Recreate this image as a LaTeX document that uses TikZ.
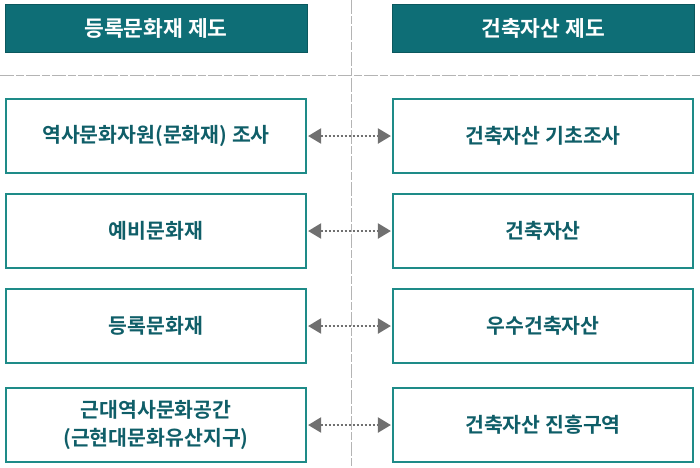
\documentclass[tikz,border=0pt]{standalone}
\usepackage{fontspec}
\setmainfont{Noto Sans CJK KR}[BoldFont={* Bold}]
\usetikzlibrary{arrows.meta}
\definecolor{hdr}{HTML}{0E6E76}
\definecolor{bord}{HTML}{1E8B88}
\definecolor{txt}{HTML}{0F5E68}
\definecolor{arr}{HTML}{707070}
\definecolor{sep}{HTML}{B4B4B4}
\begin{document}
\begin{tikzpicture}[x=1pt,y=-1pt,
  hdrbox/.style={fill=hdr,draw=hdr!80!black,line width=0.8pt,minimum width=302pt,minimum height=48pt,
    text=white,font=\fontsize{21.5}{25}\selectfont\bfseries,inner sep=0pt},
  itembox/.style={draw=bord,line width=2.2pt,fill=white,minimum width=300pt,minimum height=74pt,
    text=txt,font=\fontsize{20.5}{28}\selectfont\bfseries,align=center,inner sep=0pt},
  link/.style={draw=arr,line width=2.2pt,dash pattern=on 2pt off 2pt,
    {Triangle[length=13pt,width=15pt,fill=arr]}-{Triangle[length=13pt,width=15pt,fill=arr]},shorten <=1pt,shorten >=1pt},
  sepline/.style={draw=sep,line width=1pt,dash pattern=on 14pt off 2pt on 8pt off 2pt}]
\useasboundingbox (0,0) rectangle (700,467);
\coordinate (vt) at (351,0);
\coordinate (vb) at (351,467);
\coordinate (hl) at (0,75);
\coordinate (hr) at (700,75);
\draw[sepline] (vt) -- (vb);
\draw[sepline] (hl) -- (hr);
\node[hdrbox] (hL) at (156,28) {등록문화재 제도};
\node[hdrbox] (hR) at (543,28) {건축자산 제도};
\node[itembox] (l1) at (156,136) {역사문화자원(문화재) 조사};
\node[itembox] (r1) at (543,136) {건축자산 기초조사};
\node[itembox] (l2) at (156,231) {예비문화재};
\node[itembox] (r2) at (543,231) {건축자산};
\node[itembox] (l3) at (156,326) {등록문화재};
\node[itembox] (r3) at (543,326) {우수건축자산};
\node[itembox] (l4) at (156,425) {근대역사문화공간\\(근현대문화유산지구)};
\node[itembox] (r4) at (543,425) {건축자산 진흥구역};
\foreach \i in {1,2,3,4}{
  \draw[link] (l\i.east) -- (r\i.west);
}
\end{tikzpicture}
\end{document}
